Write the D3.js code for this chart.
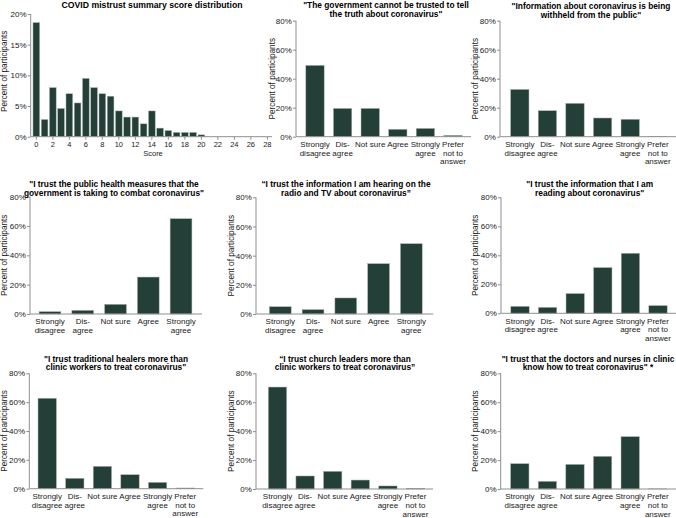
<!DOCTYPE html>
<html>
<head>
<meta charset="utf-8">
<script src="https://cdn.jsdelivr.net/npm/d3@7"></script>
<style>
  html, body { margin: 0; padding: 0; background: #fff; }
  svg { display: block; font-family: "Liberation Sans", Arial, Helvetica, sans-serif; }
</style>
</head>
<body>
<svg id="chart" width="676" height="518"></svg>
<script>
// ---------- DATA ----------
const scores = [0,1,2,3,4,5,6,7,8,9,10,11,12,13,14,15,16,17,18,19,20,21,22,23,24,25,26,27,28];
const scoreValues = [18.6,2.8,8.0,4.6,7.0,5.5,9.5,8.0,7.0,6.6,4.2,3.2,3.2,2.1,4.2,1.4,1.0,0.7,0.7,0.7,0.3,0,0,0,0,0,0,0,0];
const scoreTicks = [0,2,4,6,8,10,12,14,16,18,20,22,24,26,28];
const scorePctTicks = [0,5,10,15,20];
const pctTicks = [0,20,40,60,80];

const categories6 = ["Strongly\ndisagree","Dis-\nagree","Not sure","Agree","Strongly\nagree","Prefer\nnot to\nanswer"];
const categories5 = ["Strongly\ndisagree","Dis-\nagree","Not sure","Agree","Strongly\nagree"];

const govtValues = [49.2,19.5,19.5,5.1,5.7,0.9];
const withheldValues = [32.6,17.9,23.0,12.9,12.0,0.2];
const publicHealthValues = [1.6,2.5,6.6,25.2,65.0];
const radioValues = [5.0,3.0,11.0,34.5,48.2];
const readingValues = [4.8,4.1,13.6,31.5,41.4,5.3];
const healersValues = [62.7,7.2,15.5,9.7,4.4,0.5];
const churchValues = [70.5,9.0,12.2,6.2,2.1,0.5];
const doctorsValues = [17.5,5.3,17.0,22.6,36.2,0.1];

const titles = [
  ["COVID mistrust summary score distribution"],
  ["\"The government cannot be trusted to tell", "the truth about coronavirus\""],
  ["\"Information about coronavirus is being", "withheld from the public\""],
  ["\"I trust the public health measures that the", "government is taking to combat coronavirus\""],
  ["\u201CI trust the information I am hearing on the", "radio and TV about coronavirus\u201D"],
  ["\"I trust the information that I am", "reading about coronavirus\""],
  ["\"I trust traditional healers more than", "clinic workers to treat coronavirus\""],
  ["\u201CI trust church leaders more than", "clinic workers to treat coronavirus\u201D"],
  ["\"I trust that the doctors and nurses in clinic", "know how to treat coronavirus\" *"]
];
const yLabel = "Percent of participants";
const xLabelScore = "Score";

// ---------- STYLE / LAYOUT ----------
const BAR = "#243f37";
const BAR_EDGE = "#a9b3ae";
const AXIS = "#8f8f8f";
const TXT = "#1a1a1a";
const TICK_FS = "8px";
const TITLE_FS = "8.35px";

const svg = d3.select("#chart");

const layouts = [
  {ax:30.7, axEnd:272, y0:136.7, yTop:14, r0:32.2, r1:271.5, tx:152, tb:[7.8], lx:4.5},
  {ax:296, axEnd:471, y0:136.7, yTop:20.7, r0:301.2, r1:466.8, tx:386, tb:[8.4,17.2], lx:272},
  {ax:500, axEnd:676, y0:136.7, yTop:20.7, r0:506, r1:671.6, tx:591, tb:[8.8,17.6], lx:475.5},
  {ax:30, axEnd:202, y0:314, yTop:196.7, r0:33.6, r1:197.4, tx:114, tb:[187,195.8], lx:4.5},
  {ax:256, axEnd:433.3, y0:314, yTop:197.3, r0:263.9, r1:427.7, tx:346, tb:[187,195.8], lx:231.5},
  {ax:501, axEnd:676, y0:313.3, yTop:197.3, r0:506.2, r1:671.8, tx:589.7, tb:[187,195.8], lx:475.5},
  {ax:29.3, axEnd:203.3, y0:488.7, yTop:373.3, r0:33.4, r1:199, tx:116, tb:[361.5,370.3], lx:4.5},
  {ax:256, axEnd:433, y0:489, yTop:373.3, r0:263.7, r1:429.3, tx:345, tb:[361.5,370.3], lx:231.5},
  {ax:500.7, axEnd:676, y0:489, yTop:373.3, r0:506, r1:671.6, tx:588, tb:[361.5,370.3], lx:475.5}
];

const panels = [
  {cats: scores, vals: scoreValues, yMax: 20, yTicks: scorePctTicks, hist: true},
  {cats: categories6, vals: govtValues, yMax: 80, yTicks: pctTicks},
  {cats: categories6, vals: withheldValues, yMax: 80, yTicks: pctTicks},
  {cats: categories5, vals: publicHealthValues, yMax: 80, yTicks: pctTicks},
  {cats: categories5, vals: radioValues, yMax: 80, yTicks: pctTicks},
  {cats: categories6, vals: readingValues, yMax: 80, yTicks: pctTicks},
  {cats: categories6, vals: healersValues, yMax: 80, yTicks: pctTicks},
  {cats: categories6, vals: churchValues, yMax: 80, yTicks: pctTicks},
  {cats: categories6, vals: doctorsValues, yMax: 80, yTicks: pctTicks}
];

panels.forEach((p, i) => {
  const L = layouts[i];
  const g = svg.append("g");

  const x = d3.scaleBand().domain(p.cats).range([L.r0, L.r1])
    .paddingInner(p.hist ? 0.19 : 0.335).paddingOuter(p.hist ? 0.095 : 0.1675);
  const y = d3.scaleLinear().domain([0, p.yMax]).range([L.y0, L.yTop]);

  g.selectAll("rect.bar").data(p.cats.map((c, k) => ({c, v: p.vals[k]})))
    .join("rect")
    .attr("class", "bar")
    .attr("x", d => x(d.c))
    .attr("width", x.bandwidth())
    .attr("y", d => y(d.v))
    .attr("height", d => Math.max(0, L.y0 - y(d.v)))
    .attr("fill", BAR)
    .attr("stroke", BAR_EDGE)
    .attr("stroke-width", 0.5);

  const yAxis = d3.axisLeft(y).tickValues(p.yTicks).tickSize(3).tickPadding(1.2)
    .tickFormat(d => d + "%");
  const yg = g.append("g").attr("transform", `translate(${L.ax},0)`).call(yAxis);
  yg.select(".domain").attr("d", `M0,${L.y0}V${L.yTop}`).attr("stroke", AXIS);
  yg.selectAll(".tick line").attr("stroke", AXIS);
  yg.selectAll(".tick text").attr("fill", TXT).style("font-size", TICK_FS)
    .style("font-family", "'Liberation Sans', Arial, sans-serif");

  g.append("line").attr("x1", L.ax).attr("x2", L.axEnd)
    .attr("y1", L.y0).attr("y2", L.y0).attr("stroke", AXIS).attr("stroke-width", 1);

  if (p.hist) {
    const xAxis = d3.axisBottom(x).tickValues(scoreTicks).tickSize(3).tickPadding(2);
    const xg = g.append("g").attr("transform", `translate(0,${L.y0})`).call(xAxis);
    xg.select(".domain").remove();
    xg.selectAll(".tick line").attr("stroke", AXIS);
    xg.selectAll(".tick text").attr("fill", TXT).style("font-size", "7.5px")
      .style("font-family", "'Liberation Sans', Arial, sans-serif");
    g.append("text").attr("x", 153).attr("y", L.y0 + 18.8)
      .attr("text-anchor", "middle").attr("fill", TXT).style("font-size", "7.5px")
      .text(xLabelScore);
  } else {
    const xAxis = d3.axisBottom(x).tickSize(0).tickPadding(0).tickFormat("");
    const xg = g.append("g").attr("transform", `translate(0,${L.y0})`).call(xAxis);
    xg.select(".domain").remove();
    xg.selectAll(".tick").each(function(d) {
      const t = d3.select(this).append("text")
        .attr("text-anchor", "middle").attr("fill", TXT)
        .style("font-size", TICK_FS);
      d.split("\n").forEach((line, k) => {
        t.append("tspan").attr("x", 0).attr("y", 10.4 + k * 8.6).text(line);
      });
    });
  }

  g.append("text")
    .attr("transform", `translate(${L.lx + 2.9},${(L.y0 + L.yTop) / 2 + (p.hist ? -4 : 0)}) rotate(-90)`)
    .attr("text-anchor", "middle").attr("fill", TXT).style("font-size", "8.2px")
    .text(yLabel);

  titles[i].forEach((line, k) => {
    g.append("text").attr("x", L.tx).attr("y", L.tb[k])
      .attr("text-anchor", "middle").attr("fill", "#000")
      .style("font-size", i === 0 ? "8.7px" : TITLE_FS).style("font-weight", "bold")
      .text(line);
  });
});
</script>
</body>
</html>
